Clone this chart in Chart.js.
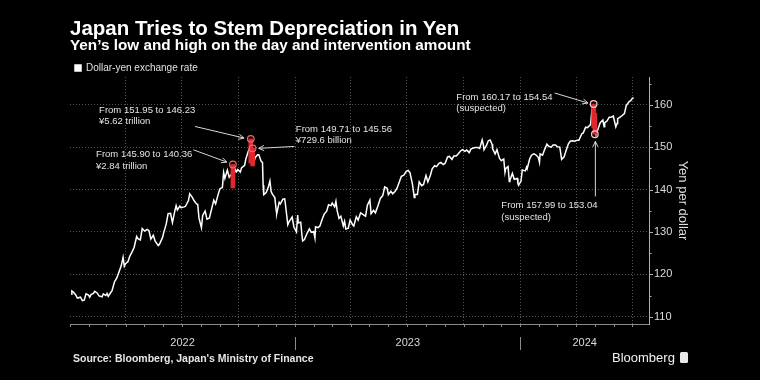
<!DOCTYPE html>
<html>
<head>
<meta charset="utf-8">
<script src="https://cdn.jsdelivr.net/npm/chart.js@4.4.1/dist/chart.umd.min.js"></script>
<style>
  html, body { margin: 0; padding: 0; background: #000; }
  #wrap { position: relative; width: 760px; height: 380px; background: #000; overflow: hidden;
          font-family: 'Liberation Sans', Arial, sans-serif; color: #fff; }
  #chart { position: absolute; left: 0; top: 0; }
  .t { position: absolute; white-space: nowrap; line-height: 1; }
  #title { left: 70px; top: 17.6px; font-size: 20.5px; font-weight: bold; }
  #sub { left: 70px; top: 37px; font-size: 15.3px; font-weight: bold; }
  #src { left: 73px; top: 353px; font-size: 10.5px; font-weight: bold; color: #e6e6e6; }
  #logo { left: 612px; top: 350.5px; font-size: 13px; color: #f2f2f2; }
  #logo span { display: inline-block; width: 8px; height: 11px; background: #e8e8e8; border-radius: 1.5px;
               margin-left: 5px; vertical-align: -1px; }
</style>
</head>
<body>
<div id="wrap">
  <canvas id="chart" width="760" height="380"></canvas>
  <div class="t" id="title">Japan Tries to Stem Depreciation in Yen</div>
  <div class="t" id="sub">Yen’s low and high on the day and intervention amount</div>
  <div class="t" id="src">Source: Bloomberg, Japan's Ministry of Finance</div>
  <div class="t" id="logo">Bloomberg<span></span></div>
</div>
<script>
// dollar-yen (roughly two points a week)
const dates = [
  '2022-01-03','2022-01-04','2022-01-06','2022-01-10','2022-01-13','2022-01-18','2022-01-21','2022-01-24','2022-01-27','2022-01-31',
  '2022-02-02','2022-02-04','2022-02-08','2022-02-10','2022-02-14','2022-02-17','2022-02-22','2022-02-24','2022-02-28',
  '2022-03-02','2022-03-04','2022-03-08','2022-03-10','2022-03-14','2022-03-16','2022-03-18','2022-03-22','2022-03-25','2022-03-28','2022-03-30',
  '2022-04-01','2022-04-05','2022-04-08','2022-04-12','2022-04-15','2022-04-19','2022-04-21','2022-04-25','2022-04-28',
  '2022-05-02','2022-05-06','2022-05-09','2022-05-12','2022-05-16','2022-05-19','2022-05-24','2022-05-26','2022-05-31',
  '2022-06-02','2022-06-06','2022-06-09','2022-06-13','2022-06-16','2022-06-20','2022-06-22','2022-06-24','2022-06-28','2022-06-30',
  '2022-07-05','2022-07-07','2022-07-12','2022-07-14','2022-07-18','2022-07-21','2022-07-25','2022-07-27','2022-07-29',
  '2022-08-02','2022-08-04','2022-08-08','2022-08-11','2022-08-15','2022-08-18','2022-08-22','2022-08-25','2022-08-29',
  '2022-09-01','2022-09-05','2022-09-07','2022-09-09','2022-09-13','2022-09-16','2022-09-20','2022-09-22','2022-09-26','2022-09-28','2022-09-30',
  '2022-10-04','2022-10-06','2022-10-11','2022-10-13','2022-10-17','2022-10-20','2022-10-21','2022-10-24','2022-10-26','2022-10-28',
  '2022-11-01','2022-11-03','2022-11-07','2022-11-09','2022-11-10','2022-11-11','2022-11-15','2022-11-18','2022-11-21','2022-11-23','2022-11-25','2022-11-29',
  '2022-12-01','2022-12-02','2022-12-06','2022-12-08','2022-12-12','2022-12-15','2022-12-16','2022-12-20','2022-12-22','2022-12-27','2022-12-30',
  '2023-01-03','2023-01-05','2023-01-06','2023-01-10','2023-01-12','2023-01-13','2023-01-16','2023-01-18','2023-01-20','2023-01-24','2023-01-27','2023-01-31',
  '2023-02-02','2023-02-03','2023-02-07','2023-02-10','2023-02-14','2023-02-17','2023-02-21','2023-02-24','2023-02-28',
  '2023-03-02','2023-03-06','2023-03-08','2023-03-10','2023-03-13','2023-03-16','2023-03-20','2023-03-22','2023-03-24','2023-03-28','2023-03-31',
  '2023-04-04','2023-04-06','2023-04-10','2023-04-13','2023-04-17','2023-04-20','2023-04-25','2023-04-28',
  '2023-05-02','2023-05-04','2023-05-08','2023-05-11','2023-05-15','2023-05-19','2023-05-23','2023-05-26','2023-05-30',
  '2023-06-01','2023-06-05','2023-06-08','2023-06-12','2023-06-15','2023-06-19','2023-06-22','2023-06-26','2023-06-30',
  '2023-07-03','2023-07-06','2023-07-10','2023-07-13','2023-07-14','2023-07-18','2023-07-21','2023-07-25','2023-07-28',
  '2023-08-01','2023-08-04','2023-08-08','2023-08-11','2023-08-15','2023-08-18','2023-08-22','2023-08-25','2023-08-29',
  '2023-09-01','2023-09-05','2023-09-08','2023-09-12','2023-09-15','2023-09-19','2023-09-22','2023-09-26','2023-09-29',
  '2023-10-03','2023-10-06','2023-10-10','2023-10-13','2023-10-17','2023-10-20','2023-10-24','2023-10-27','2023-10-31',
  '2023-11-02','2023-11-03','2023-11-07','2023-11-10','2023-11-13','2023-11-16','2023-11-17','2023-11-21','2023-11-24','2023-11-28',
  '2023-12-01','2023-12-05','2023-12-07','2023-12-08','2023-12-12','2023-12-14','2023-12-15','2023-12-19','2023-12-22','2023-12-27','2023-12-28','2023-12-29',
  '2024-01-02','2024-01-04','2024-01-05','2024-01-09','2024-01-11','2024-01-12','2024-01-16','2024-01-19','2024-01-23','2024-01-26','2024-01-30',
  '2024-02-01','2024-02-02','2024-02-06','2024-02-09','2024-02-13','2024-02-16','2024-02-20','2024-02-23','2024-02-27',
  '2024-03-01','2024-03-05','2024-03-08','2024-03-12','2024-03-15','2024-03-19','2024-03-22','2024-03-26','2024-03-29',
  '2024-04-02','2024-04-05','2024-04-10','2024-04-12','2024-04-16','2024-04-19','2024-04-24','2024-04-26','2024-04-29',
  '2024-05-01','2024-05-03','2024-05-07','2024-05-09','2024-05-10','2024-05-14','2024-05-16','2024-05-17','2024-05-21','2024-05-24','2024-05-28','2024-05-31',
  '2024-06-04','2024-06-06','2024-06-07','2024-06-11','2024-06-14','2024-06-18','2024-06-21','2024-06-26','2024-06-28',
  '2024-07-01','2024-07-03'
];
const rates = [
  115.3,116.1,115.9,115.2,114.4,114.6,113.8,113.9,115.4,115.1,
  114.6,115.2,115.5,116.0,115.6,114.9,114.7,115.4,115.0,
  115.5,114.8,115.7,116.1,118.2,118.7,119.2,120.8,122.0,124.0,121.9,
  122.5,123.0,124.3,125.4,126.4,128.9,128.4,128.1,130.8,
  130.2,130.6,130.3,128.3,129.2,127.8,126.8,127.1,128.7,
  129.9,131.9,134.3,134.4,132.2,135.0,136.2,135.2,136.1,135.7,
  135.9,136.0,137.4,139.0,138.2,137.4,136.6,136.5,133.3,
  131.0,133.9,134.9,133.0,133.3,135.1,137.5,136.6,138.8,
  140.2,140.5,144.0,142.6,144.6,142.9,143.7,142.4,144.7,144.2,144.7,
  144.1,145.1,145.7,147.2,149.0,150.1,147.6,149.0,146.4,147.5,
  148.2,148.2,146.6,146.4,141.0,138.8,139.3,140.4,142.0,139.5,138.9,138.1,
  135.3,134.3,137.0,136.6,137.7,137.8,136.7,131.7,132.4,133.5,131.1,
  130.0,134.0,132.1,132.3,129.1,127.9,128.2,128.9,129.6,130.7,129.9,130.1,
  128.6,131.2,131.0,131.4,133.1,134.2,134.9,136.4,136.2,
  136.8,135.9,137.2,135.0,133.2,133.7,131.4,132.5,130.7,130.9,132.8,
  131.7,131.4,133.6,132.8,134.5,134.2,133.7,136.3,
  137.5,134.3,135.1,134.5,136.1,137.9,138.6,140.6,140.3,
  138.8,139.6,139.0,139.6,140.3,141.9,143.1,143.4,144.3,
  144.5,144.0,141.3,138.1,138.8,138.8,141.8,140.9,141.2,
  143.3,141.8,143.3,144.9,145.6,145.4,146.2,146.4,145.9,
  146.2,147.7,147.8,147.1,147.9,147.9,148.4,149.1,149.4,
  149.0,149.3,148.7,149.6,149.8,149.9,149.9,149.7,151.7,
  150.5,149.4,150.4,151.5,151.7,150.7,149.6,148.4,149.4,147.4,
  146.8,147.2,144.1,144.9,145.4,141.9,142.2,143.8,142.4,142.6,141.4,141.0,
  142.0,144.6,144.6,144.4,145.3,144.9,147.2,148.1,148.4,148.2,147.6,
  146.4,148.4,148.1,149.3,150.7,150.2,150.0,150.5,150.5,
  150.1,150.0,147.1,147.7,149.1,150.8,151.4,151.5,151.4,
  151.6,151.6,153.2,153.3,154.7,154.6,155.3,158.3,156.2,
  155.0,153.0,154.6,155.5,155.8,156.4,154.8,155.7,156.2,157.0,157.1,157.3,
  154.8,155.6,156.7,157.1,157.4,157.9,159.8,160.8,160.9,
  161.5,161.7
];

// intervention days: high and low of the day
const interventionDates = ['2022-09-22', '2022-10-21', '2022-10-24', '2024-04-29', '2024-05-01'];
const interventionHighs = [145.90, 151.95, 149.71, 160.17, 157.99];
const interventionLows = [140.36, 146.23, 145.56, 154.54, 153.04];
// circled values the notes point at
const markerValues = [145.90, 151.95, 149.71, 160.17, 153.04];
const markerColors = ['#ef6a6a', '#ef6a6a', '#ef6a6a', '#f4d0d0', '#f4d0d0'];
const notes = [
  { at: 0, text: ['From 145.90 to 140.36', '¥2.84 trillion'], tx: -136.8, ty: -9.7, from: [-39.5, -14.7], to: [-6.1, -2.4] },
  { at: 1, text: ['From 151.95 to 146.23', '¥5.62 trillion'], tx: -151.7, ty: -28.4, from: [-55.7, -12.4], to: [-6.7, -0.8] },
  { at: 2, text: ['From 149.71 to 145.56', '¥729.6 billion'], tx: 43.2, ty: -19.3, from: [41.8, -1.9], to: [6.0, 0] },
  { at: 3, text: ['From 160.17 to 154.54', '(suspected)'], tx: -137.3, ty: -7, from: [-39, -11], to: [-5.7, -1] },
  { at: 4, text: ['From 157.99 to 153.04', '(suspected)'], tx: -93.5, ty: 71.5, from: [0.5, 62.2], to: [0.5, 7.2] }
];

const yearLabels = ['2022', '2023', '2024'];
const yTicks = [110, 120, 130, 140, 150, 160];
const yMinorTicks = [115, 125, 135, 145, 155, 165];

const FONT = "'Liberation Sans', Arial, sans-serif";
const xMin = 2022, xMax = 2024.571;

function toYear(d) {
  const [y, m, day] = d.split('-').map(Number);
  const start = Date.UTC(y, 0, 1), end = Date.UTC(y + 1, 0, 1);
  return y + (Date.UTC(y, m - 1, day) - start) / (end - start);
}

// first day of every month, and quarter starts, inside the axis range
const months = [];
for (let y = 2022; y <= 2024; y++) {
  for (let m = 1; m <= 12; m++) {
    const v = toYear(y + '-' + String(m).padStart(2, '0') + '-01');
    if (v <= xMax) months.push({ v: v, m: m });
  }
}
const quarters = months.filter(o => o.m % 3 === 1 && o.v > xMin).map(o => o.v);
const yearStarts = months.filter(o => o.m === 1 && o.v > xMin).map(o => o.v);
const yearCenters = yearLabels.map(l => {
  const y = Number(l);
  return (Math.max(y, xMin) + Math.min(y + 1, xMax)) / 2;
});

const lineData = dates.map((d, i) => ({ x: toYear(d), y: rates[i] }));
const barData = interventionDates.map((d, i) => ({ x: toYear(d), y: [interventionLows[i], interventionHighs[i]] }));
const markerData = interventionDates.map((d, i) => ({ x: toYear(d), y: markerValues[i] }));

const extras = {
  id: 'extras',
  afterDatasetsDraw(chart) {
    const ctx = chart.ctx;
    const xs = chart.scales.x, ys = chart.scales.y;
    const area = chart.chartArea;
    ctx.save();
    // month tick marks and year separators under the x axis
    ctx.strokeStyle = '#8a8a8a';
    ctx.lineWidth = 1;
    months.forEach(o => {
      const px = Math.round(xs.getPixelForValue(o.v)) + 0.5;
      ctx.beginPath();
      ctx.moveTo(px, area.bottom);
      ctx.lineTo(px, area.bottom + 3);
      ctx.stroke();
    });
    yearStarts.forEach(v => {
      const px = Math.round(xs.getPixelForValue(v)) + 0.5;
      ctx.beginPath();
      ctx.moveTo(px, area.bottom + 13);
      ctx.lineTo(px, area.bottom + 26);
      ctx.stroke();
    });
    // y axis tick marks
    ctx.strokeStyle = '#b0b0b0';
    yTicks.concat(yMinorTicks).forEach(v => {
      const py = Math.round(ys.getPixelForValue(v)) + 0.5;
      ctx.beginPath();
      ctx.moveTo(area.right, py);
      ctx.lineTo(area.right + (v % 10 === 0 ? 4 : 2.5), py);
      ctx.stroke();
    });
    // notes with arrows
    ctx.font = '9.5px ' + FONT;
    ctx.fillStyle = '#e4e4e4';
    ctx.strokeStyle = '#d8d8d8';
    ctx.textBaseline = 'middle';
    notes.forEach(n => {
      const px = xs.getPixelForValue(markerData[n.at].x);
      const py = ys.getPixelForValue(markerData[n.at].y);
      n.text.forEach((t, k) => ctx.fillText(t, px + n.tx, py + n.ty + k * 11.2));
      const x0 = px + n.from[0], y0 = py + n.from[1];
      const x1 = px + n.to[0], y1 = py + n.to[1];
      const a = Math.atan2(y1 - y0, x1 - x0);
      ctx.beginPath();
      ctx.moveTo(x0, y0);
      ctx.lineTo(x1, y1);
      ctx.moveTo(x1 - 6 * Math.cos(a - 0.45), y1 - 6 * Math.sin(a - 0.45));
      ctx.lineTo(x1, y1);
      ctx.lineTo(x1 - 6 * Math.cos(a + 0.45), y1 - 6 * Math.sin(a + 0.45));
      ctx.stroke();
    });
    ctx.restore();
  }
};

Chart.defaults.font.family = FONT;
Chart.defaults.color = '#dcdcdc';

new Chart(document.getElementById('chart'), {
  type: 'line',
  data: {
    datasets: [
      { type: 'line', label: 'Dollar-yen exchange rate', data: lineData, borderColor: '#ffffff', backgroundColor: '#ffffff',
        borderWidth: 1.5, pointRadius: 0, tension: 0, order: 2 },
      { type: 'bar', label: 'Intervention', data: barData, backgroundColor: '#e3262b', barThickness: 4,
        grouped: false, order: 1 },
      { type: 'line', label: 'Markers', data: markerData, showLine: false, pointRadius: 3.3, pointBorderWidth: 1.2,
        pointBorderColor: markerColors, pointBackgroundColor: 'rgba(0,0,0,0)', order: 0 }
    ]
  },
  options: {
    responsive: false,
    animation: false,
    devicePixelRatio: 1,
    layout: { padding: { left: 70, right: 70, top: 58, bottom: 0 } },
    plugins: {
      legend: {
        position: 'top', align: 'start', maxHeight: 19,
        labels: { boxWidth: 6, boxHeight: 6, padding: 5, color: '#e0e0e0', font: { size: 10 },
                  filter: item => item.datasetIndex === 0 }
      },
      tooltip: { enabled: false }
    },
    scales: {
      x: {
        type: 'linear', position: 'bottom', min: xMin, max: xMax, offset: false, weight: 0,
        afterBuildTicks: s => { s.ticks = quarters.map(v => ({ value: v })); },
        afterFit: s => { s.height = 0; },
        ticks: { display: false, autoSkip: false },
        grid: { color: 'rgba(255,255,255,0.33)', drawTicks: false, offset: false },
        border: { color: '#8a8a8a', dash: [1, 2] }
      },
      x2: {
        type: 'linear', position: 'bottom', min: xMin, max: xMax, offset: false, weight: 1,
        afterBuildTicks: s => { s.ticks = yearCenters.map(v => ({ value: v })); },
        afterFit: s => { s.height = 56; },
        ticks: { callback: (v, i) => yearLabels[i], color: '#d8d8d8', font: { size: 11 }, padding: 12,
                 autoSkip: false, maxRotation: 0 },
        grid: { display: false, drawTicks: false, offset: false },
        border: { display: false }
      },
      y: {
        position: 'right', min: 108.28, max: 166.54,
        afterBuildTicks: s => { s.ticks = yTicks.concat(yMinorTicks).sort((a, b) => a - b).map(v => ({ value: v })); },
        afterFit: s => { s.width = 41; },
        ticks: { callback: v => (yTicks.includes(v) ? v : ''), padding: 5, color: '#dcdcdc', font: { size: 11 } },
        grid: { color: c => (c.tick && yTicks.includes(c.tick.value) ? 'rgba(255,255,255,0.33)' : 'rgba(0,0,0,0)'),
                drawTicks: false },
        border: { color: '#b0b0b0', dash: [1, 2] },
        title: { display: true, text: 'Yen per dollar', color: '#dcdcdc', font: { size: 13 }, padding: 0 }
      }
    }
  },
  plugins: [extras]
});
</script>
</body>
</html>
